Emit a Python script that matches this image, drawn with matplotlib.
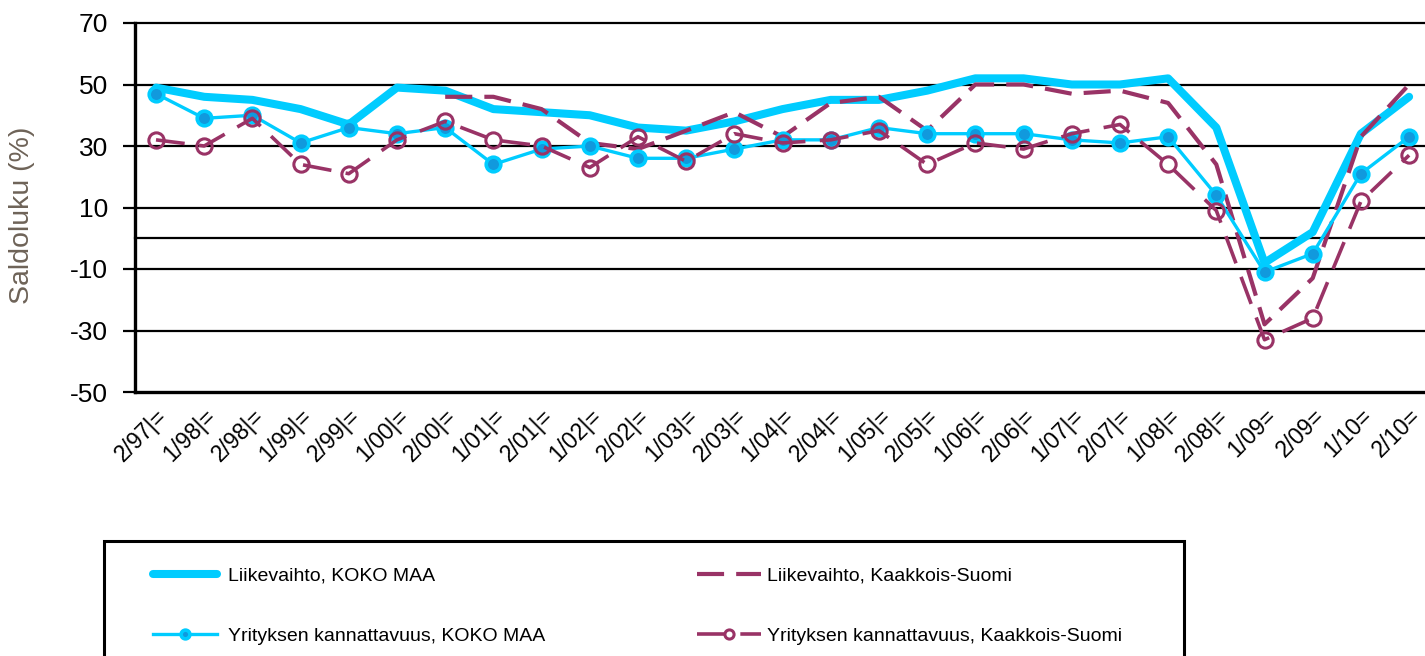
import matplotlib
matplotlib.use('Agg')
import numpy as np
import matplotlib.pyplot as plt
from matplotlib.patches import Rectangle

categories = ['2/97|=', '1/98|=', '2/98|=', '1/99|=', '2/99|=', '1/00|=', '2/00|=',
              '1/01|=', '2/01|=', '1/02|=', '2/02|=', '1/03|=', '2/03|=', '1/04|=',
              '2/04|=', '1/05|=', '2/05|=', '1/06|=', '2/06|=', '1/07|=', '2/07|=',
              '1/08|=', '2/08|=', '1/09=', '2/09=', '1/10=', '2/10=']

liikevaihto_koko = [49, 46, 45, 42, 37, 49, 48, 42, 41, 40, 36, 35, 38, 42, 45, 45,
                    48, 52, 52, 50, 50, 52, 36, -8, 2, 34, 46]
liikevaihto_kaakkois = [np.nan, np.nan, np.nan, np.nan, np.nan, np.nan, 46, 46, 42, 31,
                        29, 35, 41, 33, 44, 46, 35, 50, 50, 47, 48, 44, 24, -28, -13, 33, 50]
kannattavuus_koko = [47, 39, 40, 31, 36, 34, 36, 24, 29, 30, 26, 26, 29, 32, 32, 36,
                     34, 34, 34, 32, 31, 33, 14, -11, -5, 21, 33]
kannattavuus_kaakkois = [32, 30, 39, 24, 21, 32, 38, 32, 30, 23, 33, 25, 34, 31, 32, 35,
                         24, 31, 29, 34, 37, 24, 9, -33, -26, 12, 27]

labels = ['Liikevaihto, KOKO MAA', 'Liikevaihto, Kaakkois-Suomi',
          'Yrityksen kannattavuus, KOKO MAA', 'Yrityksen kannattavuus, Kaakkois-Suomi']
yticks = [70, 50, 30, 10, -10, -30, -50]

CYAN = '#00CCFF'
DARKBLUE = '#1199DD'
PURPLE = '#993366'

plt.rcParams['font.family'] = ['Liberation Sans', 'DejaVu Sans']

W, H = 1425, 656
fig = plt.figure(figsize=(W / 100, H / 100), dpi=100)
ax = fig.add_axes([135 / W, 1 - 392 / H, (W - 135) / W, (392 - 23) / H])

x = np.arange(len(categories))

l1, = ax.plot(x, liikevaihto_koko, color=CYAN, lw=5.8, solid_joinstyle='round',
              solid_capstyle='round', zorder=3)
l2, = ax.plot(x, liikevaihto_kaakkois, color=PURPLE, lw=3, zorder=4)
l2.set_dashes([6.5, 2.9])
l3, = ax.plot(x, kannattavuus_koko, color=CYAN, lw=2.4, marker='o', ms=10.5,
              mfc=DARKBLUE, mec=CYAN, mew=2.6, zorder=5)
l4, = ax.plot(x, kannattavuus_kaakkois, color=PURPLE, lw=2.6, marker='o', ms=11,
              mfc='none', mec=PURPLE, mew=2.2, zorder=6)
l4.set_dashes([8, 4])

ax.set_xlim(-0.436, 26.33)
ax.set_ylim(-50, 70)

# grid lines
for v in yticks + [0]:
    ax.axhline(v, color='black', lw=1.6 if v != -50 else 2.4, zorder=1, clip_on=False)

ax.set_yticks(yticks)
ax.set_yticklabels([str(v) for v in yticks], fontsize=19)
ax.tick_params(axis='y', length=8.6, width=1.6, pad=11, colors='black')
ax.set_xticks(x)
ax.set_xticklabels(categories, rotation=45, ha='right', va='top',
                   rotation_mode='anchor', fontsize=16.5)
ax.tick_params(axis='x', length=0, pad=9)

for s in ['top', 'right', 'bottom']:
    ax.spines[s].set_visible(False)
ax.spines['left'].set_linewidth(2.4)
ax.spines['left'].set_zorder(2)

fig.text(22 / W, 1 - 215 / H, 'Saldoluku (%)', rotation=90, ha='center', va='center',
         fontsize=20.5, color='#6e6358')

# legend frame
fig.patches.append(Rectangle((104 / W, -0.05), (1184 - 104) / W, 1 - 541 / H + 0.05,
                             transform=fig.transFigure, fill=False, edgecolor='black',
                             lw=2.2, zorder=0))

common = dict(loc='upper left', frameon=False, fontsize=14, borderpad=0,
              borderaxespad=0, handlelength=3.3, labelspacing=2.2, markerscale=0.6)
leg1 = fig.legend([l1, l3], [labels[0], labels[2]],
                  bbox_to_anchor=(153 / W, 1 - 567 / H), handletextpad=0.55, **common)
leg2 = fig.legend([l2, l4], [labels[1], labels[3]],
                  bbox_to_anchor=(697 / W, 1 - 567 / H), handletextpad=0.3, **common)

fig.savefig('out.png', dpi=100)
